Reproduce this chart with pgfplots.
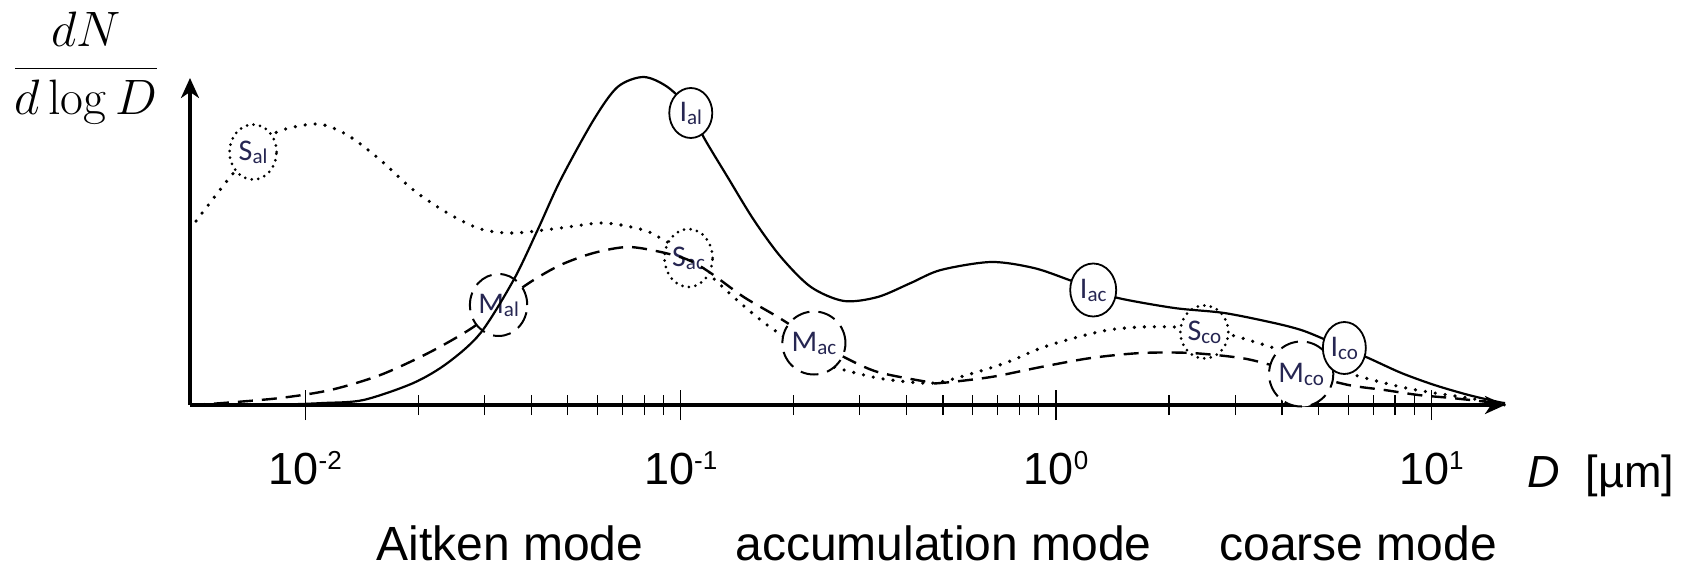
\documentclass[border=0pt]{standalone}
\usepackage[no-math]{fontspec}
\setmainfont{Liberation Sans}
\newfontfamily\calibri{Carlito}
\usepackage{pgfplots}
\pgfplotsset{compat=1.18}
\usetikzlibrary{arrows.meta,shapes.geometric}
\definecolor{lbl}{rgb}{0.15,0.15,0.32}
\newcommand{\cl}[2]{{\calibri\fontsize{15}{15}\selectfont #1\raisebox{-1.5pt}{\fontsize{10.5}{10.5}\selectfont #2}}}
\newcommand{\sps}[1]{\raisebox{7.5pt}{\fontsize{13}{13}\selectfont #1}}
\tikzset{
 circI/.style={ellipse, draw, line width=0.9pt, fill=white, inner sep=0pt, text=lbl},
 circS/.style={ellipse, draw, line width=1.5pt, line cap=round, dash pattern=on 0pt off 3.3pt, fill=white, inner sep=0pt, text=lbl},
 circM/.style={ellipse, draw, line width=1pt, dash pattern=on 9pt off 4.5pt, fill=white, inner sep=0pt, text=lbl},
}
\begin{document}
\begin{tikzpicture}
\useasboundingbox (0,0) rectangle (848pt,-283.5pt);
\begin{axis}[
  at={(95pt,-202.5pt)}, anchor=south west,
  scale only axis, width=657.5pt, height=163.5pt,
  xmin=-2.307, xmax=1.196, ymin=0, ymax=327,
  axis lines=left,
  axis line style={line width=1.6pt, -{Stealth[length=10pt,width=9pt,inset=3pt]}},
  ytick=\empty,
  xtick={-2,-1,0,1},
  xticklabels={10\sps{-2},10\sps{-1},10\sps{0},10\sps{1}},
  minor xtick={-1.699,-1.523,-1.398,-1.301,-1.222,-1.155,-1.097,-1.046,
               -0.699,-0.523,-0.398,-0.301,-0.222,-0.155,-0.097,-0.046,
               0.301,0.477,0.602,0.699,0.778,0.845,0.903,0.954},
  tick align=center,
  major tick length=15pt, minor tick length=10pt,
  every tick/.style={line width=0.6pt, black},
  xticklabel style={font=\fontsize{22.5}{27}\selectfont, anchor=base, yshift=-32pt, inner sep=0pt},
  clip=false,
]
% dotted S
\addplot[black, line width=1.8pt, line cap=round, dash pattern=on 0pt off 5pt, smooth] coordinates {
(-2.307,176) (-2.200,228) (-2.139,252) (-2.075,273) (-1.968,281) (-1.888,270) (-1.800,245) (-1.712,215)
(-1.621,192) (-1.533,176) (-1.445,172) (-1.320,177) (-1.205,182) (-1.099,175) (-1.045,165) (-0.979,150)
(-0.928,132) (-0.859,108) (-0.787,85) (-0.725,68) (-0.653,48) (-0.592,38) (-0.475,27) (-0.360,22)
(-0.307,23) (-0.219,32) (-0.128,43) (-0.040,57) (0.048,67) (0.139,75) (0.227,78) (0.315,78) (0.395,76)
(0.467,70) (0.581,57) (0.653,48) (0.795,30) (0.920,18) (1.008,12) (1.099,7) (1.168,2) (1.196,0)};
\node[circS, minimum width=23.5pt, minimum height=27.5pt] at (axis cs:-2.139,253) {\cl{S}{al}};
\node[circS, minimum width=24pt, minimum height=29pt] at (axis cs:-0.979,147) {\cl{S}{ac}};
\node[circS, minimum width=24pt, minimum height=26.5pt] at (axis cs:0.395,73) {\cl{S}{co}};
% dashed M
\addplot[black, line width=1.2pt, dash pattern=on 7.5pt off 4.5pt, smooth] coordinates {
(-2.307,0) (-2.219,2) (-2.067,7) (-1.933,15) (-1.800,30) (-1.667,53) (-1.552,78) (-1.485,100)
(-1.400,123) (-1.320,140) (-1.232,152) (-1.141,158) (-1.053,153) (-0.979,145) (-0.920,132) (-0.832,108)
(-0.741,88) (-0.645,65) (-0.565,48) (-0.475,33) (-0.341,23) (-0.307,22) (-0.173,28) (-0.040,38)
(0.093,47) (0.227,52) (0.360,52) (0.493,47) (0.573,40) (0.653,32) (0.779,20) (0.875,15) (0.965,10)
(1.053,7) (1.152,3) (1.196,1)};
\node[circM, minimum width=25pt, minimum height=31pt] at (axis cs:-1.485,100) {\cl{M}{al}};
\node[circM, minimum width=26.5pt, minimum height=31.5pt] at (axis cs:-0.645,62) {\cl{M}{ac}};
\node[circM, minimum width=26.5pt, minimum height=32.5pt] at (axis cs:0.653,31) {\cl{M}{co}};
% solid I
\addplot[black, line width=1.1pt, smooth] coordinates {
(-2.307,0) (-2.067,0.5) (-1.952,2) (-1.845,5) (-1.712,22) (-1.621,42) (-1.533,72) (-1.445,125)
(-1.381,175) (-1.320,225) (-1.232,285) (-1.168,318) (-1.099,328) (-1.035,318) (-0.973,295) (-0.939,268)
(-0.875,228) (-0.805,185) (-0.733,148) (-0.653,118) (-0.565,104) (-0.475,108) (-0.387,122) (-0.307,135)
(-0.173,143) (-0.059,137) (0.035,125) (0.099,116) (0.165,107) (0.315,97) (0.448,92) (0.581,82)
(0.653,75) (0.707,67) (0.768,57) (0.832,47) (0.920,32) (1.008,20) (1.099,10) (1.179,3) (1.196,2)};
\node[circI, minimum width=21.5pt, minimum height=25pt] at (axis cs:-0.973,292) {\cl{I}{al}};
\node[circI, minimum width=23pt, minimum height=26.5pt] at (axis cs:0.099,115) {\cl{I}{ac}};
\node[circI, minimum width=21.5pt, minimum height=26pt] at (axis cs:0.768,57) {\cl{I}{co}};
\end{axis}
\begin{scope}[x=0.5pt,y=-0.5pt]
\node[anchor=base, inner sep=0pt, font=\fontsize{25}{30}\selectfont] at (86,80.5) {$\displaystyle\frac{dN}{d\log D}$};
\node[anchor=base west, inner sep=0pt, font=\fontsize{22.5}{27}\selectfont] at (1527,487) {\textit{D}\hspace{13pt}[µm]};
\node[anchor=base west, inner sep=0pt, font=\fontsize{24}{28}\selectfont] at (376,560) {Aitken mode};
\node[anchor=base west, inner sep=0pt, font=\fontsize{24}{28}\selectfont] at (735,560) {accumulation mode};
\node[anchor=base west, inner sep=0pt, font=\fontsize{24}{28}\selectfont] at (1219,560) {coarse mode};
\end{scope}
\end{tikzpicture}
\end{document}
